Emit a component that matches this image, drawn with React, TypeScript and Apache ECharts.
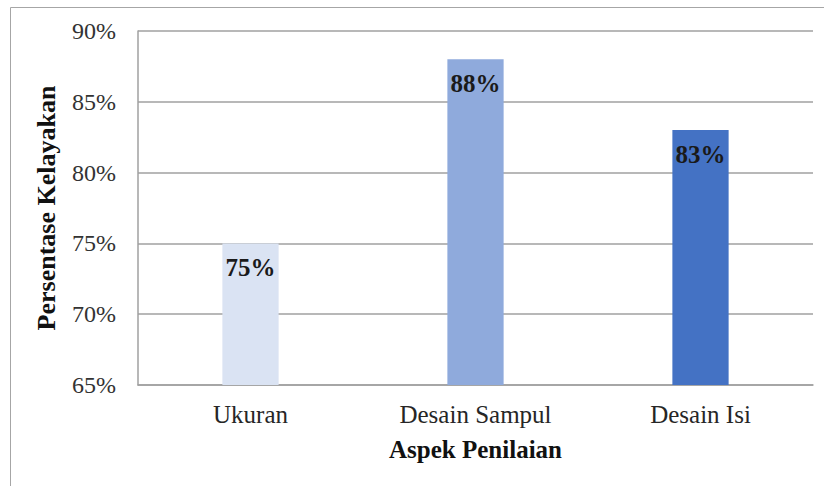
import React, { useEffect, useRef } from "react";
import * as echarts from "echarts";

const categories = ["Ukuran", "Desain Sampul", "Desain Isi"];
const values = [75, 88, 83];
const barColors = ["#dae3f3", "#8faadc", "#4472c4"];
const yTicks = { min: 65, max: 90, interval: 5 };

export default function App() {
  const ref = useRef<HTMLDivElement>(null);
  useEffect(() => {
    const chart = echarts.init(ref.current!, null, { renderer: "svg" });
    const font = "Liberation Serif";
    chart.setOption({
      animation: false,
      backgroundColor: "#ffffff",
      graphic: [
        {
          type: "rect",
          shape: { x: 10.5, y: 7.5, width: 900, height: 600 },
          style: { fill: "none", stroke: "#a6a6a6", lineWidth: 1 },
          silent: true,
        },
      ],
      grid: { left: 138, top: 31, right: 11, bottom: 101 },
      xAxis: {
        type: "category",
        data: categories,
        axisLine: { show: true, lineStyle: { color: "#a0a0a0", width: 1.5 } },
        axisTick: { show: false },
        axisLabel: { color: "#262626", fontFamily: font, fontSize: 25, margin: 17 },
        name: "Aspek Penilaian",
        nameLocation: "middle",
        nameGap: 52,
        nameTextStyle: { color: "#111", fontFamily: font, fontSize: 25, fontWeight: "bold" },
      },
      yAxis: {
        type: "value",
        min: yTicks.min,
        max: yTicks.max,
        interval: yTicks.interval,
        axisLine: { show: true, lineStyle: { color: "#a0a0a0", width: 1.5 } },
        axisTick: { show: false },
        splitLine: { lineStyle: { color: "#a0a0a0", width: 1.5 } },
        axisLabel: {
          color: "#333",
          fontFamily: font,
          fontSize: 24,
          margin: 22,
          formatter: (v: number) => v + "%",
        },
        name: "Persentase Kelayakan",
        nameLocation: "middle",
        nameGap: 79,
        nameTextStyle: { color: "#111", fontFamily: font, fontSize: 26, fontWeight: "bold" },
      },
      series: [
        {
          type: "bar",
          barWidth: "25%",
          data: values.map((v, i) => ({ value: v, itemStyle: { color: barColors[i] } })),
          label: {
            show: true,
            position: "insideTop",
            distance: 12,
            color: "#1a1a1a",
            fontFamily: font,
            fontSize: 25,
            fontWeight: "bold",
            formatter: (p: any) => p.value + "%",
          },
        },
      ],
    });
    return () => chart.dispose();
  }, []);
  return (
    <div
      ref={ref}
      style={{ position: "fixed", left: 0, top: 0, width: 824, height: 486 }}
    />
  );
}
